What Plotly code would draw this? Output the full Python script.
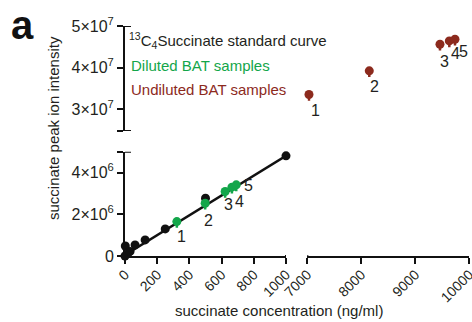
import plotly.graph_objects as go

# ---------------- data ----------------
std_conc = [0, 2, 15.6, 31.25, 62.5, 125, 250, 500, 1000]
std_intensity = [0.0, 0.48e6, 0.1e6, 0.22e6, 0.53e6, 0.77e6, 1.3e6, 2.77e6, 4.8e6]

fit_conc = [0, 1000]
fit_intensity = [0.05e6, 4.8e6]

diluted_labels = ["1", "2", "3", "4", "5"]
diluted_conc = [322, 498, 622, 664, 691]
diluted_intensity = [1.65e6, 2.53e6, 3.09e6, 3.30e6, 3.41e6]
diluted_err = [0.3e6, 0.3e6, 0.3e6, 0.3e6, 0.3e6]

undiluted_labels = ["1", "2", "3", "4", "5"]
undiluted_conc = [7031, 8148, 9457, 9630, 9735]
undiluted_intensity = [3.35e7, 3.92e7, 4.56e7, 4.64e7, 4.68e7]
undiluted_err = [1.5e6, 1.5e6, 1.5e6, 1.5e6, 1.5e6]

x_left_ticks = [0, 200, 400, 600, 800, 1000]
x_left_text = ["0", "200", "400", "600", "800", "1000"]
x_right_ticks = [7000, 8000, 9000, 10000]
x_right_text = ["7000", "8000", "9000", "10000"]
y_low_ticks = [0, 2e6, 4e6, 5e6]
y_low_text = ["0", "2×10<sup>6</sup>", "4×10<sup>6</sup>", ""]
y_up_ticks = [2.47e7, 3e7, 4e7, 5e7]
y_up_text = ["", "3×10<sup>7</sup>", "4×10<sup>7</sup>", "5×10<sup>7</sup>"]

# ---------------- style ----------------
W, H = 472, 322
FONT = "Liberation Sans, Arial, Helvetica, sans-serif"
TXT = "#231f20"
GREEN = "#13a64a"
RED = "#8c2a1d"
BLACK = "#111111"

def px(x):
    return x / W

def py(y):
    return (H - y) / H

fig = go.Figure()

fig.add_trace(go.Scatter(x=fit_conc, y=fit_intensity, mode="lines",
                         line=dict(color=BLACK, width=2.5),
                         xaxis="x", yaxis="y", cliponaxis=False, hoverinfo="skip"))
fig.add_trace(go.Scatter(x=std_conc, y=std_intensity, mode="markers",
                         marker=dict(color=BLACK, size=9),
                         xaxis="x", yaxis="y", cliponaxis=False))
fig.add_trace(go.Scatter(x=diluted_conc, y=diluted_intensity, mode="markers",
                         marker=dict(color=GREEN, size=9),
                         error_y=dict(type="data", symmetric=False, array=[0]*5,
                                      arrayminus=diluted_err, color=GREEN,
                                      thickness=2.5, width=0),
                         xaxis="x", yaxis="y", cliponaxis=False))
fig.add_trace(go.Scatter(x=undiluted_conc, y=undiluted_intensity, mode="markers",
                         marker=dict(color=RED, size=9),
                         error_y=dict(type="data", symmetric=False, array=[0]*5,
                                      arrayminus=undiluted_err, color=RED,
                                      thickness=2.5, width=0),
                         xaxis="x2", yaxis="y2", cliponaxis=False))

LABEL_FONT = dict(size=16, color=TXT, family=FONT)
# point labels
dil_off = [(5, 15), (3, 17), (3, 13), (8, 14), (12, 1)]
for lab, xv, yv, (dx, dy) in zip(diluted_labels, diluted_conc, diluted_intensity, dil_off):
    fig.add_annotation(x=xv, y=yv, xref="x", yref="y", text=lab, showarrow=False,
                       xanchor="center", yanchor="middle",
                       xshift=dx, yshift=-dy, font=LABEL_FONT)
und_off = [(7, 16), (5, 16), (5, 17), (6, 13), (9, 12)]
for lab, xv, yv, (dx, dy) in zip(undiluted_labels, undiluted_conc, undiluted_intensity, und_off):
    fig.add_annotation(x=xv, y=yv, xref="x2", yref="y2", text=lab, showarrow=False,
                       xanchor="center", yanchor="middle",
                       xshift=dx, yshift=-dy, font=LABEL_FONT)

axis_common = dict(showline=True, linecolor=BLACK, linewidth=2, ticks="outside",
                   ticklen=6, tickwidth=2, tickcolor=BLACK, showgrid=False,
                   zeroline=False, ticklabeloverflow="allow")
yfont = dict(size=16, color=TXT, family=FONT)
xfont = dict(size=14, color=TXT, family=FONT)

fig.update_layout(
    width=W, height=H,
    margin=dict(l=0, r=0, t=0, b=0, autoexpand=False),
    paper_bgcolor="white", plot_bgcolor="white",
    showlegend=False,
    xaxis=dict(domain=[px(125), px(286)], range=[0, 1000], anchor="y",
               tickvals=x_left_ticks, ticktext=x_left_text, tickangle=-45,
               tickfont=xfont, ticklabelstandoff=-3, **axis_common),
    xaxis2=dict(domain=[px(307.3), px(469.3)], range=[7000, 10000], anchor="y",
                tickvals=x_right_ticks, ticktext=x_right_text, tickangle=-45,
                tickfont=xfont, ticklabelstandoff=-3, **axis_common),
    yaxis=dict(domain=[py(256), py(151.7)], range=[0, 5e6], anchor="x",
               tickvals=y_low_ticks, ticktext=y_low_text, tickfont=yfont, **axis_common),
    yaxis2=dict(domain=[py(131), py(26)], range=[2.47e7, 5e7], anchor="x",
                tickvals=y_up_ticks, ticktext=y_up_text, tickfont=yfont, **axis_common),
)

# inner halves of axis end caps
cap = dict(color=BLACK, width=2)
for yref, yv in [("y2", 5e7), ("y2", 2.47e7), ("y", 5e6)]:
    fig.add_shape(type="line", xref="x", xsizemode="pixel", xanchor=0, x0=-1, x1=6,
                  yref=yref, y0=yv, y1=yv, line=cap)
for xref, xv in [("x", 1000), ("x2", 7000)]:
    fig.add_shape(type="line", yref="y", ysizemode="pixel", yanchor=0, y0=1, y1=-6,
                  xref=xref, x0=xv, x1=xv, line=cap)

def note(x, y, text, size, color, xanchor="center", angle=0):
    fig.add_annotation(x=px(x), y=py(y), xref="paper", yref="paper", text=text,
                       showarrow=False, xanchor=xanchor, yanchor="middle",
                       textangle=angle, font=dict(size=size, color=color, family=FONT))

# axis titles
note(278.5, 310, "succinate concentration (ng/ml)", 15, TXT)
note(54, 128, "succinate peak ion intensity", 15, TXT, angle=-90)

# legend text
note(127, 40, "<sup>13</sup>C<sub>4</sub>Succinate standard curve", 15, TXT, xanchor="left")
note(129, 65, "Diluted BAT samples", 15, GREEN, xanchor="left")
note(129, 90, "Undiluted BAT samples", 15, RED, xanchor="left")

# panel label
note(22, 25, "<b>a</b>", 40, BLACK)

fig.write_html("out.html", config={"displayModeBar": False},
               post_script="document.body.style.margin='0';document.body.style.overflow='hidden';")
